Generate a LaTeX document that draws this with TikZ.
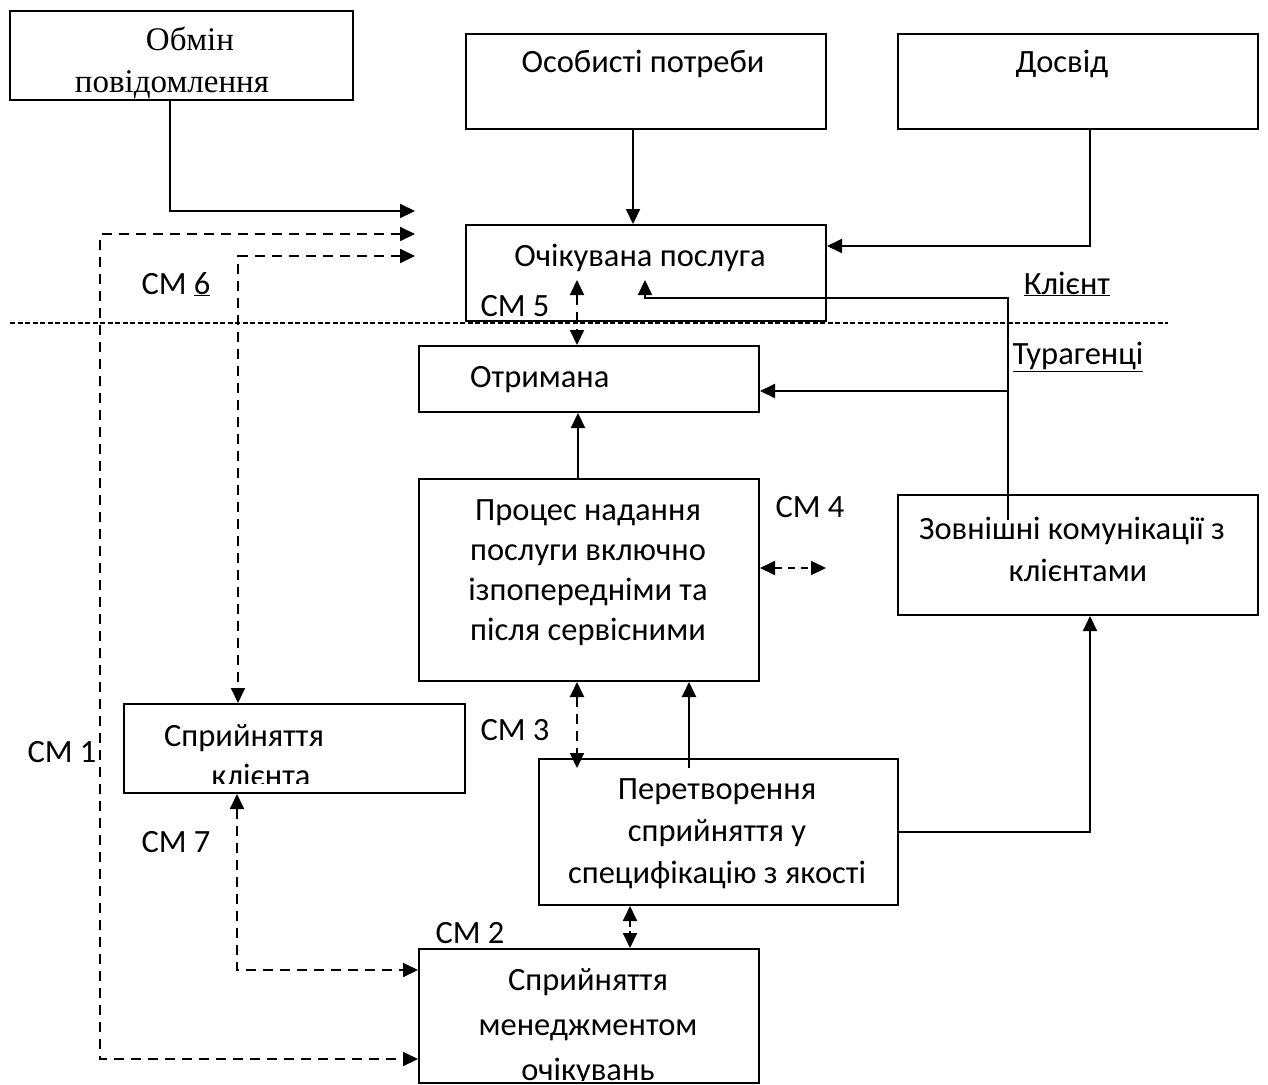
\documentclass[tikz,border=0pt]{standalone}
\usepackage{fontspec}
\setmainfont{Carlito}
\newfontfamily\timesfont{Liberation Serif}
\usetikzlibrary{arrows.meta}
\begin{document}
\begin{tikzpicture}[x=1pt,y=-1pt,
  box/.style={draw, line width=2pt, inner sep=0pt, anchor=north west},
  conn/.style={line width=2pt},
  dconn/.style={line width=2pt, dash pattern=on 10pt off 7pt},
  tip/.style={-{Triangle[length=15pt,width=14pt]}},
  btip/.style={{Triangle[length=15pt,width=14pt]}-{Triangle[length=15pt,width=14pt]}},
  sep/.style={line width=1.2pt, dash pattern=on 5pt off 2.5pt},
  lbl/.style={font=\fontsize{32.5}{40}\selectfont, anchor=base, inner sep=0pt},
  tlbl/.style={font=\timesfont\fontsize{33}{40}\selectfont, anchor=base, inner sep=0pt},
]
\useasboundingbox[fill=white] (0,0) rectangle (1268,1084);

% boxes
\node[box, minimum width=343pt, minimum height=89pt]  (obmin)   at (9,10)    {};
\node[box, minimum width=360pt, minimum height=95pt]  (osob)    at (465,33)  {};
\node[box, minimum width=360pt, minimum height=95pt]  (dosvid)  at (897,33)  {};
\node[box, minimum width=360pt, minimum height=96pt]  (ochik)   at (465,224) {};
\node[box, minimum width=340pt, minimum height=66pt]  (otrym)   at (418,345) {};
\node[box, minimum width=340pt, minimum height=202pt] (proces)  at (418,478) {};
\node[box, minimum width=360pt, minimum height=120pt] (zovn)    at (897,494) {};
\node[box, minimum width=341pt, minimum height=89pt]  (spryj)   at (123,703) {};
\node[box, minimum width=359pt, minimum height=146pt] (peretv)  at (538,758) {};
\node[box, minimum width=340pt, minimum height=134pt] (menedzh) at (418,948) {};

% box texts
\node[tlbl] (t-obmin1) at (190,50) {Обмін};
\node[tlbl] (t-obmin2) at (172,92) {повідомлення};
\node[lbl] (t-osob) at (643,72) {Особисті потреби};
\node[lbl] (t-dosvid) at (1062,72) {Досвід};
\node[lbl] (t-ochik) at (640,266) {Очікувана послуга};
\node[lbl, anchor=base west] (t-otrym) at (470,387) {Отримана};
\node[lbl] (t-pr1) at (588,520) {Процес надання};
\node[lbl] (t-pr2) at (588,560) {послуги включно};
\node[lbl] (t-pr3) at (588,600) {ізпопередніми та};
\node[lbl] (t-pr4) at (588,640) {після сервісними};
\node[lbl] (t-zo1) at (1072,539) {Зовнішні комунікації з};
\node[lbl] (t-zo2) at (1078,581) {клієнтами};
\node[lbl] (t-sp1) at (244,746) {Сприйняття};
\begin{scope}
  \clip (150,750) rectangle (400,783);
  \node[lbl] (t-sp2) at (261,786) {клієнта};
\end{scope}
\node[lbl] (t-pe1) at (717,799) {Перетворення};
\node[lbl] (t-pe2) at (717,841) {сприйняття у};
\node[lbl] (t-pe3) at (717,883) {специфікацію з якості};
\node[lbl] (t-me1) at (588,990) {Сприйняття};
\node[lbl] (t-me2) at (588,1035) {менеджментом};
\begin{scope}
  \clip (430,1050) rectangle (740,1080.5);
  \node[lbl] (t-me3) at (588,1080) {очікувань};
\end{scope}

% free labels
\node[lbl] (l-klient) at (1067,294) {\underline{Клієнт}};
\node[lbl] (l-tur) at (1078,364) {\underline{Турагенці}};
\node[lbl] (l-cm6) at (176,294) {СМ \underline{6}};
\node[lbl] (l-cm5) at (515,316) {СМ 5};
\node[lbl] (l-cm4) at (810,517) {СМ 4};
\node[lbl] (l-cm1) at (62,762) {СМ 1};
\node[lbl] (l-cm3) at (515,740) {СМ 3};
\node[lbl] (l-cm7) at (176,852) {СМ 7};
\node[lbl] (l-cm2) at (470,943) {СМ 2};

% separator
\coordinate (sepL) at (10,323);
\coordinate (sepR) at (1168,323);
\draw[sep] (sepL) -- (sepR);

% free ends / bends
\coordinate (in1) at (415,211);
\coordinate (in2) at (415,234);
\coordinate (in3) at (415,256);
\coordinate (c1) at (100,234);
\coordinate (cm5top) at (577,280);
\coordinate (zt) at (1008,520);
\coordinate (bend) at (645,298);
\coordinate (oarr) at (645,280);
\coordinate (otrin) at ([yshift=-12pt]otrym.east);
\coordinate (cm4end) at (826,568);
\coordinate (cm3b) at (577,768);
\coordinate (pp) at (689,768);
\coordinate (pm) at (630,904);
\coordinate (c7) at (237,970);

% connectors
\draw[conn,tip] ([xshift=-11.5pt]obmin.south) |- (in1);
\draw[dconn,btip] (in2) -- (c1) |- ([yshift=-43pt]menedzh.west);
\draw[dconn,btip] (in3) -| ([xshift=-56.5pt]spryj.north);
\draw[conn,tip] ([xshift=-13pt]osob.south) -- ([xshift=-13pt]ochik.north);
\draw[conn,tip] ([xshift=12pt]dosvid.south) |- ([yshift=27pt]ochik.east);
\draw[dconn,btip] (cm5top) -- (cm5top |- otrym.north);
\draw[conn,tip] (zt) |- (bend) -- (oarr);
\draw[conn,tip] (zt |- otrin) -- (otrin);
\draw[conn,tip] ([xshift=-11pt]proces.north) -- ([xshift=-11pt]otrym.south);
\draw[line width=2pt, dash pattern=on 7pt off 6pt, btip] (cm4end -| proces.east) -- (cm4end);
\draw[dconn,btip] (cm3b |- proces.south) -- (cm3b);
\draw[conn,tip] (pp) -- (pp |- proces.south);
\draw[conn,tip] (peretv.east) -| ([xshift=12pt]zovn.south);
\draw[line width=2pt, dash pattern=on 6pt off 4pt, btip] (pm |- peretv.south) -- (pm |- menedzh.north);
\draw[dconn,btip] (c7 |- spryj.south) -- (c7) -- (c7 -| menedzh.west);
\end{tikzpicture}
\end{document}
